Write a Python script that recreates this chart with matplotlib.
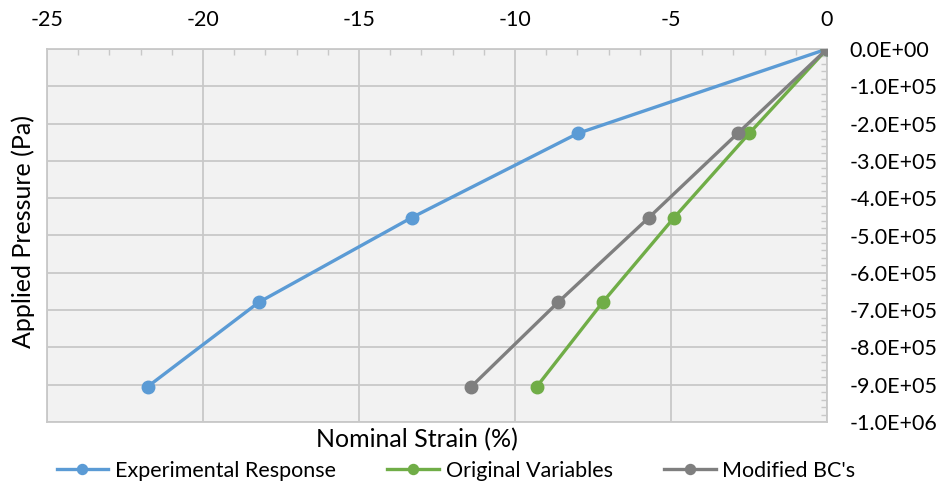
import matplotlib

matplotlib.use("Agg")
import matplotlib.pyplot as plt
from matplotlib.ticker import FuncFormatter, MultipleLocator

plt.rcParams["font.family"] = ["Lato", "DejaVu Sans"]
plt.rcParams["axes.unicode_minus"] = False

pressure = [0, -2.26e5, -4.52e5, -6.79e5, -9.05e5]
experimental = [0, -7.98, -13.31, -18.21, -21.77]
original = [0, -2.49, -4.90, -7.19, -9.30]
modified = [0, -2.86, -5.71, -8.62, -11.40]
series = [
    ("Experimental Response", experimental, "#5B9BD5"),
    ("Original Variables", original, "#70AD47"),
    ("Modified BC's", modified, "#7F7F7F"),
]

fig = plt.figure(figsize=(9.38, 4.9), dpi=100)
ax = fig.add_axes([47 / 938, 1 - 422 / 490, 780 / 938, 373 / 490])
ax.set_facecolor("#F2F2F2")

for name, strain, color in series:
    ax.plot(strain, pressure, color=color, lw=2.4, marker="o", ms=9, label=name, zorder=3)

ax.set_xlim(-25, 0)
ax.set_ylim(-1e6, 0)
ax.xaxis.set_major_locator(MultipleLocator(5))
ax.xaxis.set_minor_locator(MultipleLocator(1))
ax.yaxis.set_major_locator(MultipleLocator(1e5))
ax.yaxis.set_minor_locator(MultipleLocator(2e4))
ax.xaxis.tick_top()
ax.yaxis.tick_right()
ax.yaxis.set_major_formatter(FuncFormatter(lambda v, _: f"{v:.1E}".replace("-0.0", "0.0")))
ax.grid(True, which="major", color="#C8C8C8", lw=1.3)
ax.set_axisbelow(True)
ax.tick_params(which="major", length=0, labelsize=15.5, pad=16)
ax.tick_params(axis="x", which="major", pad=14)
ax.tick_params(which="minor", direction="in", length=4, color="#C8C8C8", width=1)
for spine in ax.spines.values():
    spine.set_color("#C8C8C8")
    spine.set_linewidth(1.3)

fig.text(417 / 938, 1 - 440 / 490, "Nominal Strain (%)", ha="center", va="center", fontsize=18)
fig.text(23 / 938, 1 - 231 / 490, "Applied Pressure (Pa)", ha="center", va="center",
         rotation=90, fontsize=18)

fig.legend(loc="center", bbox_to_anchor=(456 / 938, 1 - 471 / 490), ncol=3, frameon=False,
           fontsize=15.5, handlelength=2.4, columnspacing=2.4, handletextpad=0.3, markerscale=0.8)

fig.savefig("out.png", dpi=100)
